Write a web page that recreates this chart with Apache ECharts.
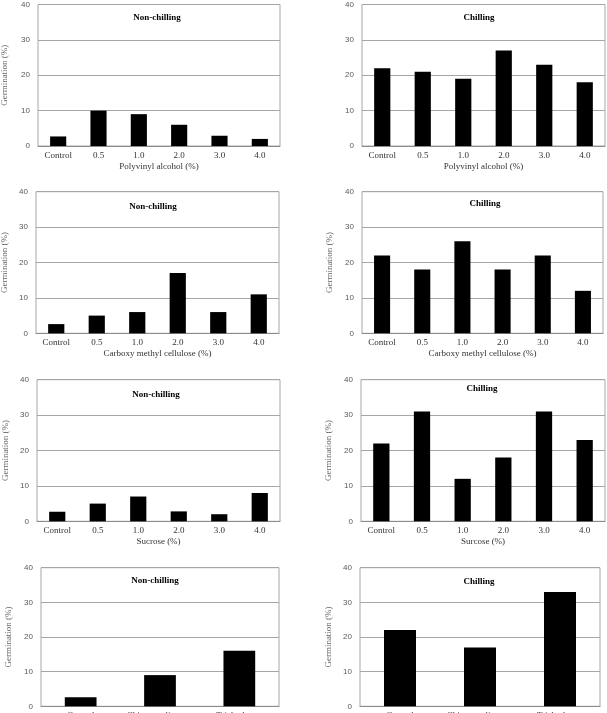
<!DOCTYPE html>
<html>
<head>
<meta charset="utf-8">
<script src="https://cdn.jsdelivr.net/npm/echarts@6/dist/echarts.min.js"></script>
<style>
  html, body { margin: 0; padding: 0; background: #fff; }
  #chart { width: 607px; height: 713px; }
</style>
</head>
<body>
<div id="chart"></div>
<script>
// categories
const doseCats = ["Control", "0.5", "1.0", "2.0", "3.0", "4.0"];
const treatCats = ["Control", "Chitosan oligomer", "Trichoderma"];

// germination (%) values
const pvaNonChilling = [2.7, 10, 9, 6, 2.9, 2];
const pvaChilling = [22, 21, 19, 27, 23, 18];
const cmcNonChilling = [2.6, 5, 6, 17, 6, 11];
const cmcChilling = [22, 18, 26, 18, 22, 12];
const sucNonChilling = [2.7, 5, 7, 2.8, 2, 8];
const sucChilling = [22, 31, 12, 18, 31, 23];
const trtNonChilling = [2.6, 9, 16];
const trtChilling = [22, 17, 33];

// y tick labels
const yTicks = [0, 10, 20, 30, 40];

// panel layout: plot box in px
const panels = [
  { left: 38, top: 4.5, width: 242, height: 141.5, cats: doseCats, data: pvaNonChilling, title: "Non-chilling", tx: 157, ty: 18, xName: "Polyvinyl alcohol (%)", yName: true, yGap: 29 },
  { left: 362, top: 4.5, width: 243, height: 141.5, cats: doseCats, data: pvaChilling, title: "Chilling", tx: 479, ty: 18, xName: "Polyvinyl alcohol (%)", yName: false },
  { left: 36, top: 191.7, width: 243, height: 141.6, cats: doseCats, data: cmcNonChilling, title: "Non-chilling", tx: 153, ty: 207, xName: "Carboxy methyl cellulose (%)", yName: true, yGap: 27 },
  { left: 362, top: 191.7, width: 241, height: 141.6, cats: doseCats, data: cmcChilling, title: "Chilling", tx: 485, ty: 204, xName: "Carboxy methyl cellulose (%)", yName: true, yGap: 28 },
  { left: 37, top: 379.7, width: 243, height: 141.6, cats: doseCats, data: sucNonChilling, title: "Non-chilling", tx: 156, ty: 395, xName: "Sucrose (%)", yName: true, yGap: 27 },
  { left: 361, top: 379.7, width: 244, height: 141.6, cats: doseCats, data: sucChilling, title: "Chilling", tx: 482, ty: 389, xName: "Surcose (%)", yName: true, yGap: 28 },
  { left: 41, top: 567.7, width: 238, height: 138.6, cats: treatCats, data: trtNonChilling, title: "Non-chilling", tx: 155, ty: 581, xName: "", yName: true, yGap: 28 },
  { left: 360, top: 567.7, width: 240, height: 138.6, cats: treatCats, data: trtChilling, title: "Chilling", tx: 479, ty: 582, xName: "", yName: true, yGap: 27 },
];

let chart = echarts.init(document.getElementById("chart"));

let grid = [];
let xAxis = [];
let yAxis = [];
let series = [];
let graphic = [];

panels.forEach((p, i) => {
  grid.push({
    left: p.left,
    top: p.top,
    width: p.width,
    height: p.height,
    show: true,
    borderColor: "#a6a6a6",
    borderWidth: 1,
    containLabel: false,
    outerBoundsMode: "none", // let the last row's labels run off the bottom like the original
  });
  xAxis.push({
    type: "category",
    gridIndex: i,
    data: p.cats,
    name: p.xName,
    nameLocation: "middle",
    nameGap: 16,
    nameTextStyle: { fontFamily: "Liberation Serif", fontSize: 9, color: "#333" },
    axisLine: { show: true, lineStyle: { color: "#8c8c8c", width: 1 } },
    axisTick: { show: false },
    axisLabel: {
      interval: 0,
      margin: 5,
      fontFamily: "Liberation Serif",
      fontSize: 9,
      color: "#333",
    },
  });
  yAxis.push({
    type: "value",
    gridIndex: i,
    min: yTicks[0],
    max: yTicks[yTicks.length - 1],
    interval: yTicks[1] - yTicks[0],
    name: p.yName ? "Germination (%)" : "",
    nameLocation: "middle",
    nameRotate: 90,
    nameGap: p.yGap || 28,
    nameTextStyle: { fontFamily: "Liberation Serif", fontSize: 9, color: "#666" },
    axisLine: { show: false },
    axisTick: { show: false },
    axisLabel: {
      margin: 8,
      fontFamily: "Liberation Sans",
      fontSize: 8,
      color: "#595959",
    },
    splitLine: { show: true, lineStyle: { color: "#a6a6a6", width: 1 } },
  });
  series.push({
    type: "bar",
    xAxisIndex: i,
    yAxisIndex: i,
    data: p.data,
    barWidth: "40%",
    itemStyle: { color: "#000" },
    silent: true,
  });
  // panel title
  graphic.push({
    type: "text",
    x: p.tx,
    y: p.ty,
    style: {
      text: p.title,
      align: "center",
      verticalAlign: "middle",
      font: "bold 9px 'Liberation Serif'",
      fill: "#000",
    },
  });
});

chart.setOption({
  animation: false,
  grid: grid,
  xAxis: xAxis,
  yAxis: yAxis,
  series: series,
  graphic: graphic,
});
</script>
</body>
</html>
